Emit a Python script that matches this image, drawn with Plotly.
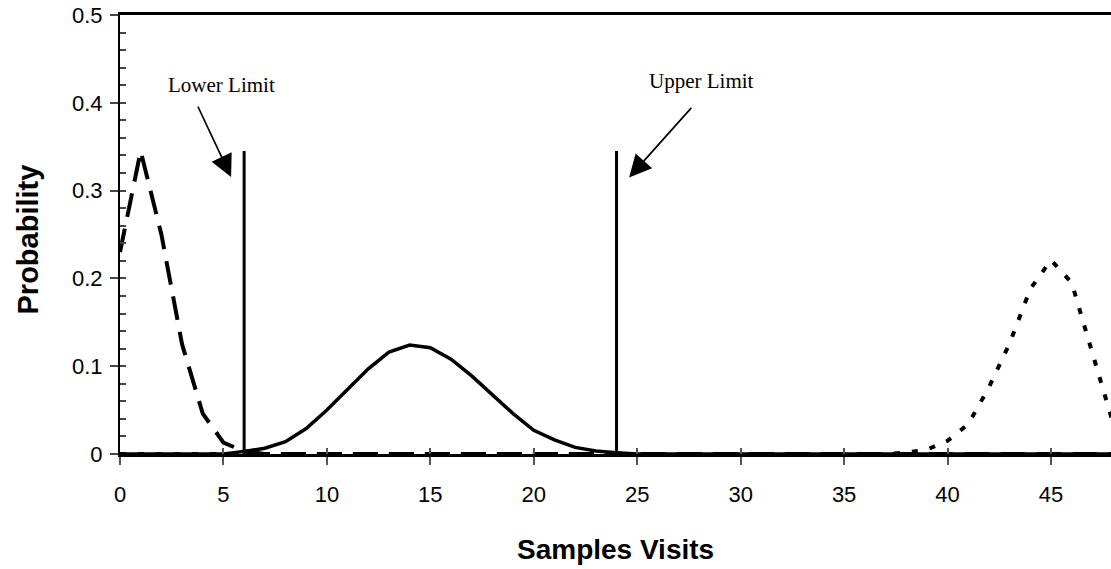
import plotly.graph_objects as go

# ---- data ----
visits = list(range(0, 49))
low_dist = [0.23, 0.345, 0.25, 0.125, 0.046, 0.013, 0.003, 0, 0, 0,
            0, 0, 0, 0, 0, 0, 0, 0, 0, 0,
            0, 0, 0, 0, 0, 0, 0, 0, 0, 0,
            0, 0, 0, 0, 0, 0, 0, 0, 0, 0,
            0, 0, 0, 0, 0, 0, 0, 0, 0]
mid_dist = [0, 0, 0, 0, 0, 0, 0.003, 0.0065, 0.014, 0.029,
            0.05, 0.073, 0.097, 0.116, 0.124, 0.121, 0.108, 0.089, 0.067, 0.046,
            0.027, 0.016, 0.0075, 0.0035, 0.0015, 0, 0, 0, 0, 0,
            0, 0, 0, 0, 0, 0, 0, 0, 0, 0,
            0, 0, 0, 0, 0, 0, 0, 0, 0]
high_dist = [0, 0, 0, 0, 0, 0, 0, 0, 0, 0,
             0, 0, 0, 0, 0, 0, 0, 0, 0, 0,
             0, 0, 0, 0, 0, 0, 0, 0, 0, 0,
             0, 0, 0, 0, 0, 0, 0, 0, 0.0015, 0.005,
             0.015, 0.034, 0.076, 0.126, 0.188, 0.221, 0.195, 0.117, 0.035]
lower_limit = 6
upper_limit = 24
limit_height = 0.345
x_ticks = [0, 5, 10, 15, 20, 25, 30, 35, 40, 45]
y_ticks = [0, 0.1, 0.2, 0.3, 0.4, 0.5]
y_tick_labels = ["0", "0.1", "0.2", "0.3", "0.4", "0.5"]
x_range = [0, 47.9]
y_range = [0, 0.5]

fig = go.Figure()
fig.add_trace(go.Scatter(x=visits, y=low_dist, mode="lines",
                         line=dict(color="black", width=4, dash="24px,12px")))
fig.add_trace(go.Scatter(x=visits, y=mid_dist, mode="lines",
                         line=dict(color="black", width=3.5)))
fig.add_trace(go.Scatter(x=visits, y=high_dist, mode="lines",
                         line=dict(color="black", width=4, dash="6px,12px")))
for lim in (lower_limit, upper_limit):
    fig.add_trace(go.Scatter(x=[lim, lim], y=[0, limit_height], mode="lines",
                             line=dict(color="black", width=3)))
# helper trace for the inner (minor) tick axes
fig.add_trace(go.Scatter(x=[None], y=[None], xaxis="x2", yaxis="y2",
                         mode="lines", hoverinfo="skip"))

tick_font = dict(family="Liberation Sans, Arial", size=22, color="black")
fig.update_layout(
    width=1111, height=569,
    margin=dict(l=120, r=0, t=15, b=115),
    paper_bgcolor="white", plot_bgcolor="white",
    showlegend=False,
    xaxis=dict(range=x_range, tickvals=x_ticks, ticks="outside", ticklen=8,
               tickcolor="#555", tickwidth=1.5, showgrid=False, zeroline=False,
               showline=True, linecolor="black", linewidth=2.5, mirror=True,
               tickfont=tick_font, ticklabelstandoff=11),
    yaxis=dict(range=y_range, tickvals=y_ticks, ticktext=y_tick_labels,
               ticks="outside", ticklen=8, tickcolor="#444", tickwidth=1.5,
               showgrid=False, zeroline=False, showline=True,
               linecolor="black", linewidth=2, tickfont=tick_font,
               ticklabelstandoff=3),
    xaxis2=dict(range=x_range, overlaying="x", anchor="y", side="bottom",
                tickvals=x_ticks, ticks="inside", ticklen=6, tickcolor="#555",
                tickwidth=1.5, showticklabels=False, showgrid=False,
                zeroline=False, showline=False),
    yaxis2=dict(range=y_range, overlaying="y", anchor="x", side="left",
                dtick=0.02, tick0=0, ticks="inside", ticklen=6,
                tickcolor="#444", tickwidth=1.5, showticklabels=False,
                showgrid=False, zeroline=False, showline=False),
)

serif = dict(family="Liberation Serif, Times New Roman", size=21, color="black")
fig.add_annotation(x=4.92, y=0.42, text="Lower Limit", showarrow=False, font=serif)
fig.add_annotation(x=28.1, y=0.425, text="Upper Limit", showarrow=False, font=serif)
fig.add_annotation(x=5.37, y=0.3155, ax=3.73, ay=0.3975, axref="x", ayref="y",
                   text="", showarrow=True, arrowhead=2, arrowsize=2.6,
                   arrowwidth=1.7, arrowcolor="black")
fig.add_annotation(x=24.61, y=0.315, ax=27.68, ay=0.396, axref="x", ayref="y",
                   text="", showarrow=True, arrowhead=2, arrowsize=2.6,
                   arrowwidth=1.7, arrowcolor="black")

title_font = dict(family="Liberation Sans, Arial", size=28, color="black")
fig.add_annotation(xref="paper", yref="paper", x=0.5, y=0, yanchor="middle",
                   yshift=-95, text="<b>Samples Visits</b>", showarrow=False,
                   font=title_font)
fig.add_annotation(xref="paper", yref="paper", x=0, y=0.5, xanchor="center",
                   xshift=-93, yshift=-5, textangle=-90,
                   text="<b>Probability</b>",
                   showarrow=False, font=dict(family="Liberation Sans, Arial",
                                              size=29, color="black"))

fig.write_html("out.html")
